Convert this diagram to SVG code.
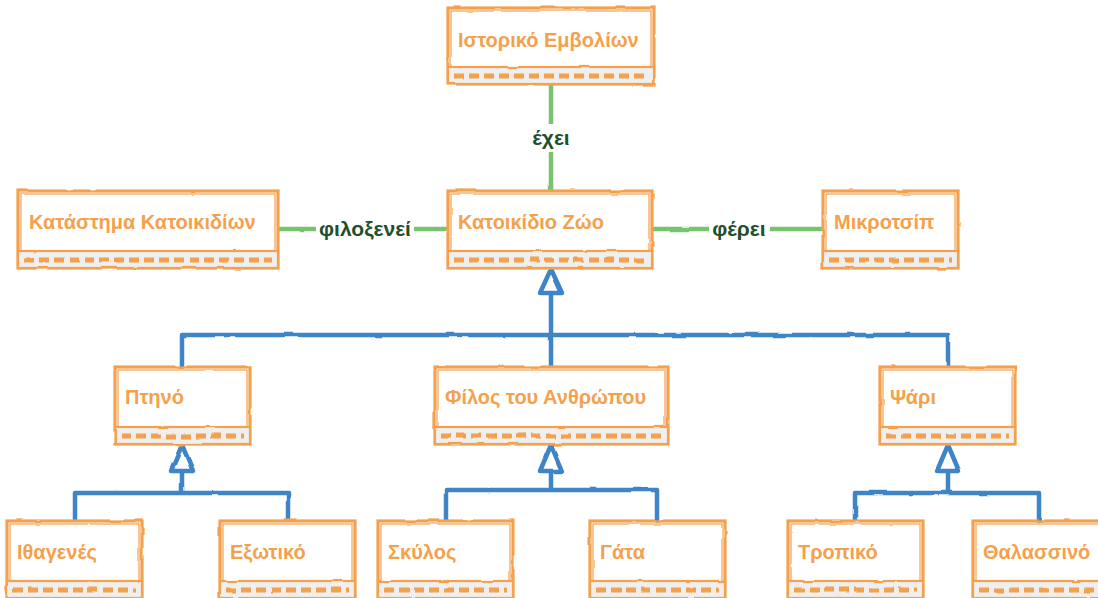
<svg xmlns="http://www.w3.org/2000/svg" width="1098" height="598" viewBox="0 0 1098 598">
<defs>
<filter id="rough" x="-5%" y="-5%" width="110%" height="110%">
<feTurbulence type="fractalNoise" baseFrequency="0.04" numOctaves="2" seed="3" result="n"/>
<feDisplacementMap in="SourceGraphic" in2="n" scale="2.5" xChannelSelector="R" yChannelSelector="G"/>
</filter>
</defs>
<style>
.box{fill:#ffffff;stroke:#f4a14d;stroke-width:3.2;}
.inner{fill:none;stroke:#f4a14d;stroke-width:1.2;}
.band{fill:#efefef;stroke:#f4a14d;stroke-width:2.2;}
.dash{stroke:#f4a14d;stroke-width:5;stroke-dasharray:10 5;fill:none;}
.t{font-family:"Liberation Sans",Arial,sans-serif;font-weight:bold;font-size:20px;fill:#f4a14d;}
.lbl{font-family:"Liberation Sans",Arial,sans-serif;font-weight:bold;font-size:21px;fill:#1f4f2b;text-anchor:middle;}
.lbg{fill:#ffffff;}
.g{stroke:#78c36e;stroke-width:4.5;fill:none;stroke-linecap:round;}
.b{stroke:#3d85c6;stroke-width:4.5;fill:none;stroke-linecap:round;stroke-linejoin:round;}
.tri{stroke:#3d85c6;stroke-width:4.5;fill:#ffffff;stroke-linejoin:round;}
</style>

<g id="connectors">
<g filter="url(#rough)">
<line class="g" x1="551" y1="84" x2="551" y2="190"/>
<line class="g" x1="278" y1="229" x2="448" y2="229"/>
<line class="g" x1="652" y1="229" x2="823" y2="229"/>
<path class="b" d="M551 293 V335 M182 367 V335 H948 V367 M551 335 V367"/>
<path class="b" d="M182 472 V493 M75 521 V493 H288 V521"/>
<path class="b" d="M551 472 V490 M446 521 V490 H657 V521"/>
<path class="b" d="M948 472 V493 M855 521 V493 H1039 V521"/>
<polygon class="tri" points="551,269 562,293 540,293"/>
<polygon class="tri" points="182,445 193,471 171,471"/>
<polygon class="tri" points="551,445 562,471 540,471"/>
<polygon class="tri" points="948,445 959,471 937,471"/>
</g>
<rect class="lbg" x="527" y="124" width="48" height="28"/>
<text class="lbl" x="551" y="145">έχει</text>
<rect class="lbg" x="316" y="216" width="98" height="26"/>
<text class="lbl" x="365" y="236">φιλοξενεί</text>
<rect class="lbg" x="709" y="216" width="61" height="26"/>
<text class="lbl" x="739" y="236">φέρει</text>
</g>

<g id="node-istoriko">
<g filter="url(#rough)">
<rect class="box" x="448" y="8" width="206" height="76"/>
<rect class="inner" x="451" y="11" width="200" height="56"/>
<rect class="band" x="448" y="67" width="206" height="17"/>
<line class="dash" x1="454" y1="76" x2="648" y2="76"/>
</g>
<text class="t" x="458" y="47">Ιστορικό Εμβολίων</text>
</g>

<g id="node-katastima">
<g filter="url(#rough)">
<rect class="box" x="18" y="191" width="260" height="77"/>
<rect class="inner" x="21" y="194" width="254" height="57"/>
<rect class="band" x="18" y="251" width="260" height="17"/>
<line class="dash" x1="24" y1="260" x2="272" y2="260"/>
</g>
<text class="t" x="29" y="229">Κατάστημα Κατοικιδίων</text>
</g>

<g id="node-katoikidio">
<g filter="url(#rough)">
<rect class="box" x="448" y="191" width="204" height="77"/>
<rect class="inner" x="451" y="194" width="198" height="57"/>
<rect class="band" x="448" y="251" width="204" height="17"/>
<line class="dash" x1="454" y1="260" x2="646" y2="260"/>
</g>
<text class="t" x="458" y="229">Κατοικίδιο Ζώο</text>
</g>

<g id="node-mikrotsip">
<g filter="url(#rough)">
<rect class="box" x="823" y="191" width="135" height="77"/>
<rect class="inner" x="826" y="194" width="129" height="57"/>
<rect class="band" x="823" y="251" width="135" height="17"/>
<line class="dash" x1="829" y1="260" x2="952" y2="260"/>
</g>
<text class="t" x="834" y="229">Μικροτσίπ</text>
</g>

<g id="node-ptino">
<g filter="url(#rough)">
<rect class="box" x="115" y="367" width="135" height="77"/>
<rect class="inner" x="118" y="370" width="129" height="57"/>
<rect class="band" x="115" y="427" width="135" height="17"/>
<line class="dash" x1="121" y1="436" x2="244" y2="436"/>
</g>
<text class="t" x="125" y="404">Πτηνό</text>
</g>

<g id="node-filos">
<g filter="url(#rough)">
<rect class="box" x="435" y="367" width="233" height="77"/>
<rect class="inner" x="438" y="370" width="227" height="57"/>
<rect class="band" x="435" y="427" width="233" height="17"/>
<line class="dash" x1="441" y1="436" x2="662" y2="436"/>
</g>
<text class="t" x="445" y="404">Φίλος του Ανθρώπου</text>
</g>

<g id="node-psari">
<g filter="url(#rough)">
<rect class="box" x="880" y="367" width="135" height="77"/>
<rect class="inner" x="883" y="370" width="129" height="57"/>
<rect class="band" x="880" y="427" width="135" height="17"/>
<line class="dash" x1="886" y1="436" x2="1009" y2="436"/>
</g>
<text class="t" x="890" y="404">Ψάρι</text>
</g>

<g id="node-ithageneis">
<g filter="url(#rough)">
<rect class="box" x="7" y="521" width="135" height="77"/>
<rect class="inner" x="10" y="524" width="129" height="57"/>
<rect class="band" x="7" y="581" width="135" height="17"/>
<line class="dash" x1="13" y1="590" x2="136" y2="590"/>
</g>
<text class="t" x="17" y="559">Ιθαγενές</text>
</g>

<g id="node-exotiko">
<g filter="url(#rough)">
<rect class="box" x="220" y="521" width="135" height="77"/>
<rect class="inner" x="223" y="524" width="129" height="57"/>
<rect class="band" x="220" y="581" width="135" height="17"/>
<line class="dash" x1="226" y1="590" x2="349" y2="590"/>
</g>
<text class="t" x="230" y="559">Εξωτικό</text>
</g>

<g id="node-skylos">
<g filter="url(#rough)">
<rect class="box" x="378" y="521" width="135" height="77"/>
<rect class="inner" x="381" y="524" width="129" height="57"/>
<rect class="band" x="378" y="581" width="135" height="17"/>
<line class="dash" x1="384" y1="590" x2="507" y2="590"/>
</g>
<text class="t" x="388" y="559">Σκύλος</text>
</g>

<g id="node-gata">
<g filter="url(#rough)">
<rect class="box" x="590" y="521" width="135" height="77"/>
<rect class="inner" x="593" y="524" width="129" height="57"/>
<rect class="band" x="590" y="581" width="135" height="17"/>
<line class="dash" x1="596" y1="590" x2="719" y2="590"/>
</g>
<text class="t" x="600" y="559">Γάτα</text>
</g>

<g id="node-tropiko">
<g filter="url(#rough)">
<rect class="box" x="788" y="521" width="135" height="77"/>
<rect class="inner" x="791" y="524" width="129" height="57"/>
<rect class="band" x="788" y="581" width="135" height="17"/>
<line class="dash" x1="794" y1="590" x2="917" y2="590"/>
</g>
<text class="t" x="798" y="559">Τροπικό</text>
</g>

<g id="node-thalassino">
<g filter="url(#rough)">
<rect class="box" x="973" y="521" width="135" height="77"/>
<rect class="inner" x="976" y="524" width="129" height="57"/>
<rect class="band" x="973" y="581" width="135" height="17"/>
<line class="dash" x1="979" y1="590" x2="1102" y2="590"/>
</g>
<text class="t" x="983" y="559">Θαλασσινό</text>
</g>
</svg>
